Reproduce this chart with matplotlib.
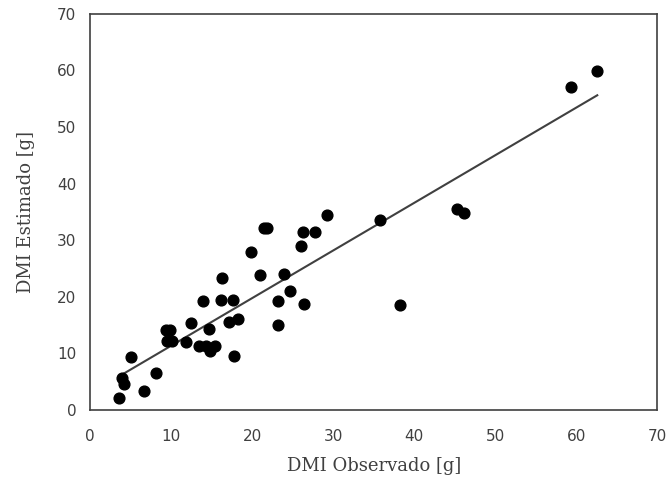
import numpy as np
import matplotlib.pyplot as plt

# DMI observado vs estimado
obs = [3.6, 4.0, 4.2, 5.1, 6.7, 8.2, 9.4, 9.9, 9.5, 10.1, 11.8, 12.4, 14.0, 13.5,
       14.3, 14.7, 14.8, 15.4, 16.3, 16.2, 17.6, 17.8, 17.2, 18.2, 19.9, 21.0,
       21.5, 21.9, 23.9, 23.2, 24.7, 23.2, 26.4, 26.0, 26.3, 27.8, 29.3, 35.8,
       38.2, 45.3, 46.2, 59.3, 62.6]
est = [2.1, 5.7, 4.6, 9.3, 3.3, 6.5, 14.1, 14.1, 12.2, 12.2, 12.0, 15.3, 19.2, 11.4,
       11.4, 14.3, 10.4, 11.4, 23.4, 19.4, 19.4, 9.6, 15.6, 16.0, 27.9, 23.9,
       32.2, 32.2, 24.1, 19.2, 21.0, 15.1, 18.8, 28.9, 31.5, 31.5, 34.4, 33.6,
       18.5, 35.6, 34.9, 57.0, 59.9]

ticks = [0, 10, 20, 30, 40, 50, 60, 70]

fig = plt.figure(figsize=(6.72, 4.79), dpi=100)
ax = fig.add_axes([0.134, 0.144, 0.844, 0.827])

ax.scatter(obs, est, s=60, color='black', zorder=3)

# linha de tendência
a, b = np.polyfit(obs, est, 1)
xl = np.array([min(obs), max(obs)])
ax.plot(xl, a * xl + b, color='#404040', lw=1.5, zorder=2)

ax.set_xlim(0, 70)
ax.set_ylim(0, 70)
ax.set_xticks(ticks)
ax.set_yticks(ticks)
ax.tick_params(axis='x', length=0, pad=14, labelsize=11, labelcolor='#404040')
ax.tick_params(axis='y', length=0, pad=10, labelsize=11, labelcolor='#404040')
for s in ax.spines.values():
    s.set_color('#404040')
    s.set_linewidth(1.2)

ax.set_xlabel('DMI Observado [g]', fontfamily='DejaVu Serif', fontsize=13, color='#404040', labelpad=9)
ax.set_ylabel('DMI Estimado [g]', fontfamily='DejaVu Serif', fontsize=13, color='#404040', labelpad=16)

plt.savefig('out.png', dpi=100)
